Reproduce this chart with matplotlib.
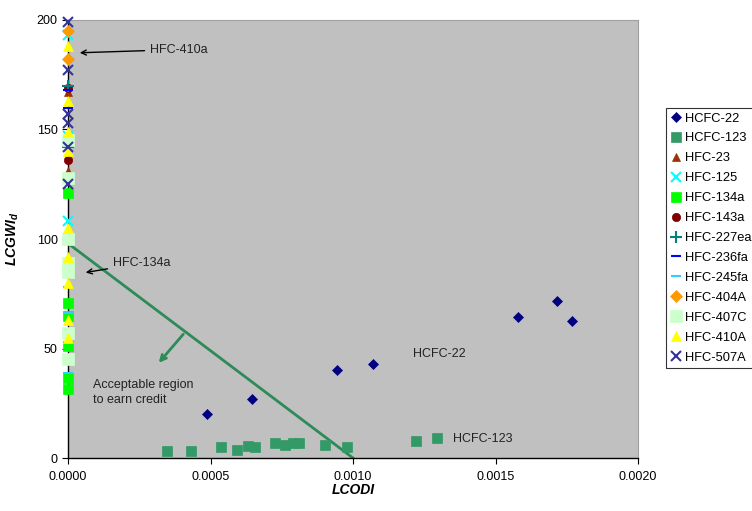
import matplotlib
matplotlib.use("Agg")
import matplotlib.pyplot as plt
from matplotlib.ticker import FormatStrFormatter

plt.rcParams['font.family'] = ['Liberation Sans', 'DejaVu Sans']

# ---- data ----
hcfc22_x = [0.000488, 0.000646, 0.000944, 0.00107, 0.00158, 0.001716, 0.001768]
hcfc22_y = [20.1, 27.0, 40.2, 42.9, 64.4, 71.7, 62.6]

hcfc123_x = [0.000347, 0.000432, 0.000537, 0.000593, 0.000632, 0.000656, 0.000726,
             0.000761, 0.000790, 0.000810, 0.000902, 0.000979, 0.00122, 0.001295]
hcfc123_y = [3.2, 3.2, 5.0, 3.6, 5.5, 5.0, 6.8, 5.9, 6.8, 6.8, 5.9, 5.0, 7.8, 9.1]

hfc23_y = [167, 131]
hfc125_y = [193, 147, 108]
hfc134a_y = [121, 71, 65, 51, 36.5, 31.5]
hfc143a_y = [169, 136]
hfc227ea_y = [170, 142]
hfc236fa_y = [168, 160, 88]
hfc245fa_y = [146, 78, 66, 39]
hfc404a_y = [195, 182]
hfc407c_y = [145, 128, 100, 89, 85, 57, 45]
hfc410a_y = [188, 163, 149, 140, 105, 92, 80, 63, 55]
hfc507a_y = [199, 177, 157, 153, 142, 125]

# credit boundary line (LCODI, LCGWI)
bound_x = [0.0, 0.001]
bound_y = [98, 0]

xticks = [0.0, 0.0005, 0.0010, 0.0015, 0.0020]
yticks = [0, 50, 100, 150, 200]

fig = plt.figure(figsize=(7.52, 5.11), dpi=100)
ax = fig.add_axes([68/752, 53/511, 570/752, 438/511])
ax.set_facecolor('#C0C0C0')

ax.plot(bound_x, bound_y, color='#2E8B57', lw=2, zorder=2)
ax.annotate('', xy=(0.000312, 42.5), xytext=(0.000411, 57.5),
            arrowprops=dict(arrowstyle='->', color='#2E8B57', lw=2), zorder=2)

series = [
    ('HCFC-22', hcfc22_x, hcfc22_y, 'D', '#000080', 5),
    ('HCFC-123', hcfc123_x, hcfc123_y, 's', '#339966', 7),
    ('HFC-23', None, hfc23_y, '^', '#993300', 6),
    ('HFC-125', None, hfc125_y, 'x', '#00FFFF', 7),
    ('HFC-134a', None, hfc134a_y, 's', '#00FF00', 7),
    ('HFC-143a', None, hfc143a_y, 'o', '#800000', 6),
    ('HFC-227ea', None, hfc227ea_y, '+', '#008080', 8),
    ('HFC-236fa', None, hfc236fa_y, '_', '#0000FF', 7),
    ('HFC-245fa', None, hfc245fa_y, '_', '#33CCFF', 7),
    ('HFC-404A', None, hfc404a_y, 'D', '#FF9900', 6),
    ('HFC-407C', None, hfc407c_y, 's', '#CCFFCC', 8),
    ('HFC-410A', None, hfc410a_y, '^', '#FFFF00', 7),
    ('HFC-507A', None, hfc507a_y, 'x', '#333399', 7),
]
handles = []
for name, xs, ys, m, c, s in series:
    if xs is None:
        xs = [0.0] * len(ys)
    h, = ax.plot(xs, ys, linestyle='none', marker=m, color=c, markersize=s,
                 markeredgewidth=1.5 if m in 'x+_' else 0.5,
                 markeredgecolor=c, label=name, clip_on=False, zorder=4)
    handles.append(h)

ax.set_xlim(0, 0.002)
ax.set_ylim(0, 200)
ax.set_xticks(xticks)
ax.set_yticks(yticks)
ax.xaxis.set_major_formatter(FormatStrFormatter('%.4f'))
ax.tick_params(direction='out', length=4, labelsize=9, colors='black')
ax.tick_params(axis='x', pad=5)
for sp in ['top', 'right']:
    ax.spines[sp].set_color('#A0A0A0')
    ax.spines[sp].set_linewidth(0.8)
for sp in ['left', 'bottom']:
    ax.spines[sp].set_color('black')
    ax.spines[sp].set_linewidth(1)

ax.set_xlabel('LCODI', fontsize=10, fontweight='bold', style='italic', labelpad=0)
ax.set_ylabel(r'LCGWI$_\mathregular{d}$', fontsize=10, fontweight='bold', style='italic')
ax.yaxis.set_label_coords(-0.082, 0.5)

ax.text(0.0000875, 30, 'Acceptable region\nto earn credit', fontsize=9, va='center', ha='left',
        color='#222222', linespacing=1.3)
ax.text(0.00121, 47.5, 'HCFC-22', fontsize=9, va='center', ha='left', color='#222222')
ax.text(0.00135, 8.5, 'HCFC-123', fontsize=9, va='center', ha='left', color='#222222')

ax.annotate('HFC-410a', xy=(0.0000316, 185), xytext=(0.000288, 186.5),
            fontsize=9, va='center', ha='left', color='#222222',
            arrowprops=dict(arrowstyle='->', color='black', lw=1))
ax.annotate('HFC-134a', xy=(0.0000526, 84.5), xytext=(0.000158, 89),
            fontsize=9, va='center', ha='left', color='#222222',
            arrowprops=dict(arrowstyle='->', color='black', lw=1))

leg = fig.legend(handles=handles, loc='upper left', bbox_to_anchor=(666/752, 1 - 108/511),
                 fontsize=9.3, frameon=True, fancybox=False, edgecolor='black',
                 handlelength=0.8, handletextpad=0.3, labelspacing=0.61,
                 borderpad=0.35, borderaxespad=0)
leg.get_frame().set_linewidth(0.8)

fig.savefig('out.png', dpi=100)
